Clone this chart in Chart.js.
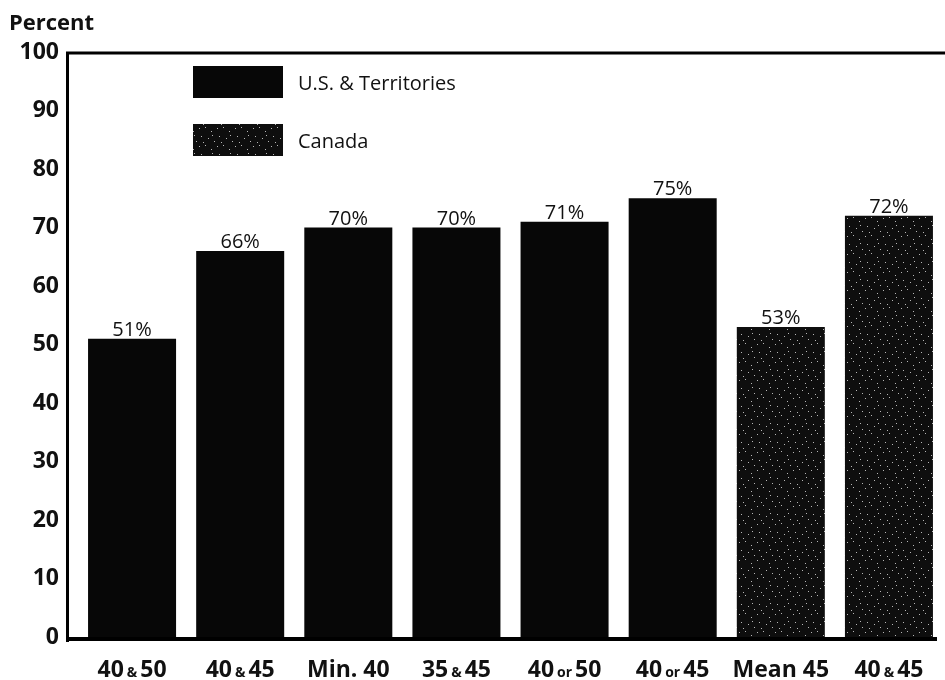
<!DOCTYPE html>
<html>
<head>
<meta charset="utf-8">
<title>Percent by schedule</title>
<script src="https://cdn.jsdelivr.net/npm/chart.js@4.4.1/dist/chart.umd.min.js"></script>
<style>
  html, body { margin: 0; padding: 0; background: #fff; }
  #wrap { position: relative; width: 945px; height: 680px; }
</style>
</head>
<body>
<div id="wrap"><canvas id="chart"></canvas></div>
<script>
const categories = ['40 & 50', '40 & 45', 'Min. 40', '35 & 45', '40 or 50', '40 or 45', 'Mean 45', '40 & 45'];
const usValues = [51, 66, 70, 70, 71, 75, null, null];
const canadaValues = [null, null, null, null, null, null, 53, 72];
const seriesNames = ['U.S. & Territories', 'Canada'];
const yTitle = 'Percent';

const FONT = "'Open Sans', 'DejaVu Sans', sans-serif";
Chart.defaults.font.family = FONT;
Chart.defaults.color = '#111';

// grainy fill for the Canada bars
function grainPattern() {
  const c = document.createElement('canvas');
  c.width = 18; c.height = 18;
  const g = c.getContext('2d');
  g.fillStyle = '#0e0e0e';
  g.fillRect(0, 0, 18, 18);
  g.fillStyle = 'rgba(240,240,240,0.75)';
  [[1, 2], [7, 1], [13, 5], [3, 10], [10, 12], [16, 15], [5, 16], [14, 9]].forEach(([x, y]) => g.fillRect(x, y, 1, 1));
  return g.createPattern(c, 'repeat');
}

const extras = {
  id: 'extras',
  afterDatasetsDraw(chart) {
    const ctx = chart.ctx;
    const a = chart.chartArea;
    ctx.save();

    // value labels above bars
    ctx.font = '400 20px ' + FONT;
    ctx.fillStyle = '#111';
    ctx.textAlign = 'center';
    ctx.textBaseline = 'alphabetic';
    chart.data.datasets.forEach((ds, di) => {
      chart.getDatasetMeta(di).data.forEach((bar, i) => {
        const v = ds.data[i];
        if (v == null) return;
        ctx.fillText(v + '%', bar.x, bar.y - 3);
      });
    });

    // frame: left, top and bottom rules
    ctx.strokeStyle = '#000';
    ctx.lineWidth = 3;
    ctx.beginPath();
    ctx.moveTo(a.left - 10.5, a.top);
    ctx.lineTo(a.left - 10.5, a.bottom + 5);
    ctx.moveTo(a.left - 12, a.top + 1);
    ctx.lineTo(chart.width, a.top + 1);
    ctx.stroke();
    ctx.lineWidth = 4;
    ctx.beginPath();
    ctx.moveTo(a.left - 12, a.bottom + 2);
    ctx.lineTo(a.right - 6, a.bottom + 2);
    ctx.stroke();

    // legend boxes
    chart.data.datasets.forEach((ds, di) => {
      const bx = a.left + 115, by = a.top + 14 + di * 58;
      ctx.fillStyle = ds.backgroundColor;
      ctx.fillRect(bx, by, 90, 32);
      ctx.fillStyle = '#111';
      ctx.font = '400 20px ' + FONT;
      ctx.textAlign = 'left';
      ctx.textBaseline = 'middle';
      ctx.fillText(ds.label, bx + 105, by + 18);
    });

    // axis title
    ctx.font = '700 22px ' + FONT;
    ctx.textAlign = 'left';
    ctx.textBaseline = 'alphabetic';
    ctx.fillText(yTitle, 9, 30);

    // category labels, with the small "&" / "or" joiner
    const xs = chart.scales.x;
    categories.forEach((lab, i) => {
      const m = lab.match(/^(.*?) (&|or) (.*)$/);
      const big = '700 23px ' + FONT, small = '700 14px ' + FONT;
      const parts = m ? [[m[1], big], [m[2], small], [m[3], big]] : [[lab, big]];
      const gap = 3;
      let w = 0;
      parts.forEach(([t, f]) => { ctx.font = f; w += ctx.measureText(t).width; });
      w += gap * (parts.length - 1);
      let x = xs.getPixelForValue(i) - w / 2;
      parts.forEach(([t, f]) => {
        ctx.font = f;
        ctx.fillText(t, x, 677);
        x += ctx.measureText(t).width + gap;
      });
    });

    ctx.restore();
  }
};

new Chart(document.getElementById('chart'), {
  type: 'bar',
  data: {
    labels: categories,
    datasets: [
      { label: seriesNames[0], data: usValues, backgroundColor: '#070707' },
      { label: seriesNames[1], data: canadaValues, backgroundColor: grainPattern() }
    ]
  },
  options: {
    responsive: true,
    maintainAspectRatio: false,
    animation: false,
    layout: { padding: { top: 52, right: 2, bottom: 0, left: 0 } },
    datasets: { bar: { skipNull: true, categoryPercentage: 1, barPercentage: 0.814 } },
    plugins: { legend: { display: false }, tooltip: { enabled: false } },
    scales: {
      x: {
        grid: { display: false },
        border: { display: false },
        ticks: { display: false },
        afterFit(scale) { scale.height = 43; }
      },
      y: {
        min: 0,
        max: 100,
        grid: { display: false, drawTicks: false },
        border: { display: false },
        ticks: { stepSize: 10, padding: 19, font: { size: 23, weight: '700' }, color: '#111' },
        afterFit(scale) { scale.width = 78; }
      }
    }
  },
  plugins: [extras]
});
</script>
</body>
</html>
